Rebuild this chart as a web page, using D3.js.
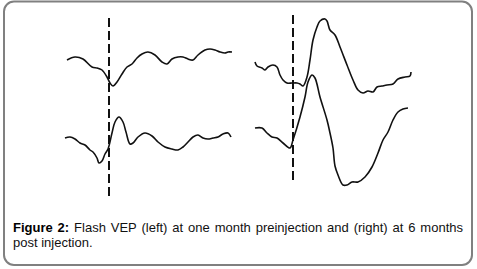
<!DOCTYPE html>
<html>
<head>
<meta charset="utf-8">
<script src="https://cdn.jsdelivr.net/npm/d3@7"></script>
<style>
  body { margin: 0; background: #fff; }
  .caption { font-family: "Liberation Sans", Arial, sans-serif; font-size: 13px; fill: #111; }
  .caption .lbl { font-weight: bold; fill: #000; }
</style>
</head>
<body>
<div id="fig"></div>
<script>
// Flash VEP traces: time in ms relative to the flash, amplitude in uV relative to trace start
const leftPreTop = [
  [-84, 0], [-68, 1.5], [-52, 0.5], [-34, -3.5], [-24, -4], [-18, -4.5], [-14, -5], [-4, -8.5],
  [2, -11.5], [8, -13], [16, -11], [26, -7], [36, -3.5], [46, -2], [56, 1], [66, 3],
  [78, 4], [92, 2.5], [106, -1], [116, -2], [126, 0.5], [138, 1.5], [148, 1.5], [158, 0.5],
  [168, 0], [178, 2.5], [192, 5], [202, 5.5], [212, 5], [222, 4], [232, 3.5], [238, 4], [246, 4]
];
const leftPreBottom = [
  [-88, 0], [-78, 0.5], [-68, -0.5], [-58, -2.5], [-48, -3.5], [-38, -6], [-32, -7], [-24, -10],
  [-20, -12.5], [-14, -11.5], [-8, -8], [-2, -5.5], [6, 2.5], [12, 8], [20, 10.5], [28, 8],
  [34, 3], [42, -3], [48, -2.5], [58, 0.5], [72, 2.5], [86, 1], [98, -2], [112, -4.5],
  [126, -5.5], [138, -6], [148, -4.5], [158, -2], [168, 0.5], [178, 1.5], [188, 0], [198, -0.5],
  [208, 0], [218, 0.5], [228, 2], [238, 2.5], [244, 0.5]
];
const rightPostTop = [
  [-76, 0], [-72, -2], [-62, -3], [-56, -4], [-50, -2.5], [-40, -1.5], [-32, -2.5], [-26, -6.5],
  [-20, -9], [-12, -10.5], [-2, -10.5], [8, -10.5], [14, -11], [20, -12], [28, -7.5], [34, 1],
  [40, 11], [48, 17.5], [54, 20.5], [64, 21.5], [68, 20.5], [74, 16], [84, 13.5], [94, 7.5],
  [108, -1.5], [120, -9], [130, -14], [140, -15.5], [150, -14.5], [160, -15], [168, -12.5],
  [178, -12], [188, -11.5], [200, -11], [210, -8.5], [224, -7.5], [234, -7], [236, -5]
];
const rightPostBottom = [
  [-76, 0], [-62, 0], [-52, -2.5], [-42, -4.5], [-32, -5], [-20, -7.5], [-6, -10], [0, -6],
  [14, 5.5], [24, 15.5], [30, 23], [38, 26.5], [44, 25], [54, 15.5], [68, 4], [74, -2.5],
  [80, -10], [84, -19], [90, -23.5], [100, -28.5], [108, -28.5], [118, -27], [130, -27],
  [144, -24.5], [158, -19.5], [170, -12.5], [180, -6], [190, -2], [200, 4], [210, 8],
  [220, 9.5], [230, 10]
];

// trace offsets (uV) used to stack the recordings
const leftOffsets = [20, -19];
const rightOffsets = [19, -14];
// stimulus marker extent (uV)
const leftMarker = [41, -50];
const rightMarker = [42.5, -41.5];

const captionBold = "Figure 2:";
const captionText = "Flash VEP (left) at one month preinjection and (right) at 6 months post injection.";

const W = 477, H = 269;
const svg = d3.select("#fig").append("svg").attr("width", W).attr("height", H)
  .style("display", "block");

// frame
svg.append("rect")
  .attr("x", 4).attr("y", 1.5).attr("width", 468).attr("height", 263.5)
  .attr("rx", 10).attr("fill", "none").attr("stroke", "#808080").attr("stroke-width", 2);

const y = d3.scaleLinear().domain([50, -50]).range([0, 200]);
const xLeft = d3.scaleLinear().domain([-88, 252]).range([65, 235]);
const xRight = d3.scaleLinear().domain([-76, 264]).range([255, 425]);

function drawPanel(x, traces, offsets, marker) {
  const g = svg.append("g");
  g.append("line")
    .attr("x1", x(0)).attr("x2", x(0))
    .attr("y1", y(marker[0])).attr("y2", y(marker[1]))
    .attr("stroke", "#111").attr("stroke-width", 2).attr("stroke-dasharray", "9,4");
  traces.forEach((tr, i) => {
    const line = d3.line()
      .x(d => x(d[0]))
      .y(d => y(d[1] + offsets[i]))
      .curve(d3.curveCatmullRom.alpha(0.5));
    g.append("path")
      .attr("d", line(tr))
      .attr("fill", "none").attr("stroke", "#111").attr("stroke-width", 1.6)
      .attr("stroke-linejoin", "round");
  });
}

drawPanel(xLeft, [leftPreTop, leftPreBottom], leftOffsets, leftMarker);
drawPanel(xRight, [rightPostTop, rightPostBottom], rightOffsets, rightMarker);

// caption: wrap to the box width, justify the first line
const capX = 13, capW = 450, capY = 232, capLH = 15;
const words = captionText.split(" ");
const line1 = svg.append("text").attr("class", "caption").attr("x", capX).attr("y", capY);
line1.append("tspan").attr("class", "lbl").text(captionBold + " ");
const rest = line1.append("tspan");
let i = 0, cur = "";
for (; i < words.length; i++) {
  const tryText = cur ? cur + " " + words[i] : words[i];
  rest.text(tryText);
  if (line1.node().getComputedTextLength() > capW) { rest.text(cur); break; }
  cur = tryText;
}
const spaces = (captionBold + " " + cur).split(" ").length - 1;
const extra = (capW - line1.node().getComputedTextLength()) / spaces;
line1.attr("word-spacing", extra);
svg.append("text").attr("class", "caption")
  .attr("x", capX).attr("y", capY + capLH)
  .text(words.slice(i).join(" "));
</script>
</body>
</html>
